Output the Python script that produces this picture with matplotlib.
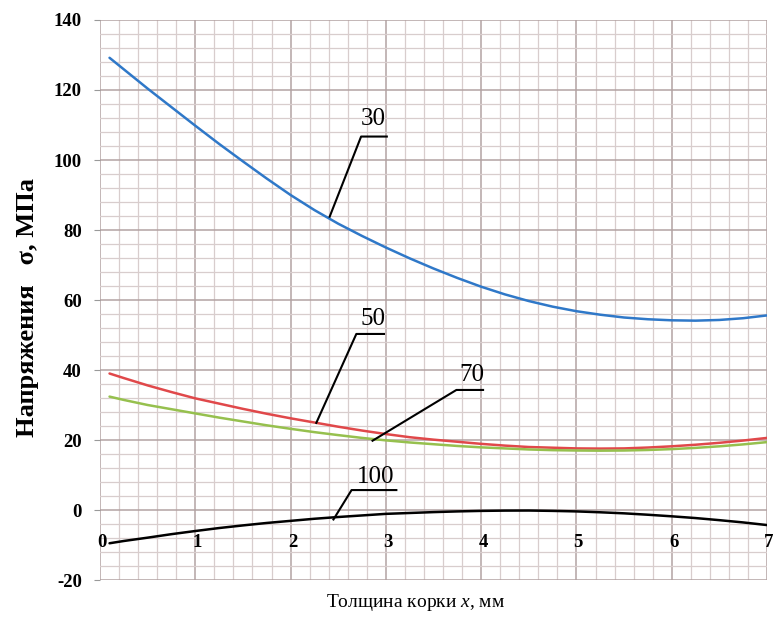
import matplotlib.pyplot as plt
from matplotlib.ticker import MultipleLocator

plt.rcParams['mathtext.fontset'] = 'custom'
plt.rcParams['mathtext.rm'] = 'Liberation Serif'
plt.rcParams['mathtext.it'] = 'Liberation Serif:italic'

# Data
x = [0.1, 0.25, 0.5, 0.75, 1.0, 1.25, 1.5, 1.75, 2.0, 2.25, 2.5, 2.75, 3.0, 3.25, 3.5,
     3.75, 4.0, 4.25, 4.5, 4.75, 5.0, 5.25, 5.5, 5.75, 6.0, 6.25, 6.5, 6.75, 7.0]
s30 = [129.2, 125.9, 120.4, 115.1, 109.8, 104.6, 99.6, 94.7, 90.0, 85.7, 81.8, 78.3, 75.0,
       71.9, 69.0, 66.3, 63.8, 61.6, 59.7, 58.1, 56.8, 55.8, 55.0, 54.5, 54.2, 54.1, 54.3,
       54.8, 55.6]
s50 = [39.0, 37.7, 35.6, 33.7, 31.9, 30.4, 28.9, 27.5, 26.2, 25.0, 23.8, 22.7, 21.7,
       20.8, 20.1, 19.5, 18.9, 18.4, 18.0, 17.8, 17.6, 17.55, 17.6, 17.85, 18.2, 18.65,
       19.2, 19.85, 20.6]
s70 = [32.4, 31.45, 30.0, 28.8, 27.6, 26.4, 25.3, 24.2, 23.2, 22.25, 21.4, 20.6, 19.9,
       19.3, 18.8, 18.3, 17.9, 17.6, 17.3, 17.1, 17.0, 16.95, 17.0, 17.15, 17.4, 17.75,
       18.2, 18.75, 19.4]
s100 = [-9.5, -8.85, -7.9, -6.9, -6.0, -5.15, -4.4, -3.7, -3.1, -2.5, -2.0, -1.55, -1.1,
        -0.85, -0.6, -0.4, -0.25, -0.17, -0.15, -0.25, -0.4, -0.65, -0.95, -1.35, -1.8,
        -2.3, -2.9, -3.55, -4.3]

series_labels = ['30', '50', '70', '100']
xtick_vals = [0, 1, 2, 3, 4, 5, 6, 7]
ytick_vals = [-20, 0, 20, 40, 60, 80, 100, 120, 140]

colors = ['#2f78c8', '#e0484a', '#96c04e', '#000000']

fig = plt.figure(figsize=(7.74, 6.21), dpi=100)
ax = fig.add_axes([0.1292, 0.066, 0.8618, 0.9018])
ax.set_xlim(0, 7)
ax.set_ylim(-20, 140)

# grid like graph paper
ax.xaxis.set_major_locator(MultipleLocator(1))
ax.xaxis.set_minor_locator(MultipleLocator(0.2))
ax.yaxis.set_major_locator(MultipleLocator(20))
ax.yaxis.set_minor_locator(MultipleLocator(4))
ax.grid(which='minor', color='#d8cdcd', linewidth=0.9, zorder=0)
ax.grid(which='major', color='#b3a3a3', linewidth=1.1, zorder=0)
ax.set_axisbelow(True)
for sp in ax.spines.values():
    sp.set_visible(False)

ax.set_yticks(ytick_vals)
ax.set_yticklabels([str(v) for v in ytick_vals], fontfamily='Liberation Serif',
                   fontweight='bold', fontsize=13.5)
ax.tick_params(axis='y', which='major', length=4, color='#999999', pad=9)
ax.tick_params(axis='y', which='minor', length=0)
ax.tick_params(axis='x', which='both', length=0, labelbottom=False)

# x tick labels sit inside the plot, just under the zero line
for v in xtick_vals:
    ax.text(v + 0.02, -9.3, str(v), ha='center', va='center', fontsize=13.5,
            fontfamily='Liberation Serif', fontweight='bold', clip_on=False)

for ys, c in zip([s30, s50, s70, s100], colors):
    ax.plot(x, ys, color=c, linewidth=1.8, solid_capstyle='round',
            solid_joinstyle='round', zorder=3)

# leader lines and labels: (curve point, knee, end), label position
leaders = {
    '30': ([2.41, 2.74, 3.01], [83.8, 106.7, 106.7], (2.87, 111.8)),
    '50': ([2.27, 2.69, 2.98], [24.9, 50.3, 50.3], (2.86, 54.7)),
    '70': ([2.86, 3.74, 4.02], [19.8, 34.3, 34.3], (3.90, 38.7)),
    '100': ([2.45, 2.64, 3.11], [-2.7, 5.7, 5.7], (2.89, 9.5)),
}
for lab in series_labels:
    lx, ly, (tx, ty) = leaders[lab]
    ax.plot(lx, ly, color='black', linewidth=1.5, zorder=4)
    ax.text(tx, ty, lab, ha='center', va='center', fontsize=18,
            fontfamily='Liberation Serif', zorder=5)

fig.text(0.035, 0.505, 'Напряжения   σ, МПа', rotation=90, ha='center', va='center',
         fontsize=19, fontweight='bold', fontfamily='Liberation Serif')
fig.text(0.537, 0.029, 'Толщина корки $x$, мм', ha='center', va='center',
         fontsize=14, fontfamily='Liberation Serif')

fig.savefig('out.png', dpi=100, facecolor='white')
